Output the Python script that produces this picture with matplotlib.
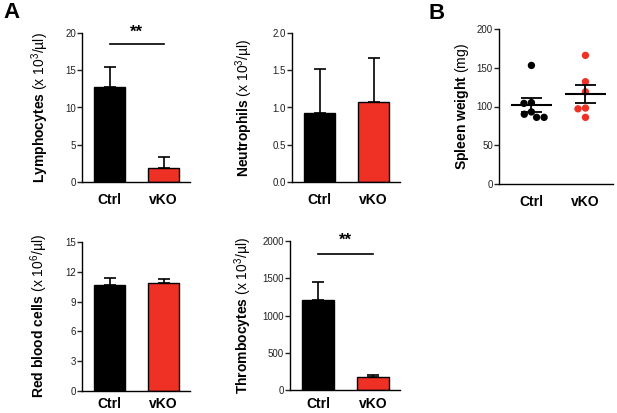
import numpy as np
import matplotlib
matplotlib.use("Agg")
import matplotlib.pyplot as plt

# ---------------- data ----------------
groups = ["Ctrl", "vKO"]

lymph_mean = [12.8, 1.9]
lymph_sem = [2.6, 1.5]
lymph_ticks = [0, 5, 10, 15, 20]
lymph_ticklabels = ["0", "5", "10", "15", "20"]

neut_mean = [0.92, 1.08]
neut_sem = [0.60, 0.59]
neut_ticks = [0.0, 0.5, 1.0, 1.5, 2.0]
neut_ticklabels = ["0.0", "0.5", "1.0", "1.5", "2.0"]

rbc_mean = [10.7, 10.9]
rbc_sem = [0.65, 0.35]
rbc_ticks = [0, 3, 6, 9, 12, 15]
rbc_ticklabels = ["0", "3", "6", "9", "12", "15"]

thromb_mean = [1210, 178]
thromb_sem = [240, 30]
thromb_ticks = [0, 500, 1000, 1500, 2000]
thromb_ticklabels = ["0", "500", "1000", "1500", "2000"]

spleen_ctrl = [153, 105, 104, 90, 93, 86, 86]
spleen_vko = [166, 132, 119, 98, 97, 86]
spleen_ticks = [0, 50, 100, 150, 200]
spleen_ticklabels = ["0", "50", "100", "150", "200"]

sig_label = "**"
lymph_sig_y = 18.5
thromb_sig_y = 1830

# ---------------- style ----------------
plt.rcParams["font.family"] = ["Liberation Sans", "DejaVu Sans"]
plt.rcParams["mathtext.fontset"] = "custom"
plt.rcParams["mathtext.rm"] = "Liberation Sans"
plt.rcParams["mathtext.bf"] = "Liberation Sans:bold"
plt.rcParams["mathtext.it"] = "Liberation Sans:italic"
plt.rcParams["mathtext.sf"] = "Liberation Sans"

BLACK = "#000000"
RED = "#EE3124"
W, H = 617, 413
fig = plt.figure(figsize=(W / 100, H / 100), dpi=100)
fig.patch.set_facecolor("white")


def ax_px(l, t, r, b):
    return fig.add_axes([l / W, 1 - b / H, (r - l) / W, (b - t) / H])


def style_axes(ax, ticks, ticklabels, ylabel, label_x, xpad=8):
    for s in ("top", "right"):
        ax.spines[s].set_visible(False)
    for s in ("left", "bottom"):
        ax.spines[s].set_linewidth(1.0)
    ax.set_ylim(ticks[0], ticks[-1])
    ax.set_yticks(ticks)
    ax.set_yticklabels(ticklabels)
    ax.tick_params(axis="y", length=3.4, width=1.0, pad=1, labelsize=7,
                   colors="#222222")
    ax.tick_params(axis="x", length=0, pad=xpad, labelsize=10)
    ax.set_xticks(range(len(groups)))
    ax.set_xticklabels(groups, fontweight="bold")
    ax.set_ylabel(ylabel, fontsize=10)
    ax.yaxis.set_label_coords(label_x, 0.5)


def bar_panel(ax, means, sems, ticks, ticklabels, ylabel, label_x, xpad=8):
    x = np.arange(len(groups))
    ax.bar(x, means, width=0.575, color=[BLACK, RED], edgecolor=BLACK,
           linewidth=1.0, zorder=2)
    ax.errorbar(x, means, yerr=[np.zeros(len(means)), sems], fmt="none",
                ecolor=BLACK, elinewidth=1.2, capsize=4, capthick=1.2, zorder=3)
    ax.set_xlim(-0.51, 1.49)
    style_axes(ax, ticks, ticklabels, ylabel, label_x, xpad)


def sig(ax, y, ytext):
    ax.plot([0, 1], [y, y], color=BLACK, lw=1.2, clip_on=False)
    ax.text(0.5, ytext, sig_label, ha="center", va="baseline", fontsize=12,
            fontweight="bold", clip_on=False)


ax1 = ax_px(82, 33, 190, 182)
bar_panel(ax1, lymph_mean, lymph_sem, lymph_ticks, lymph_ticklabels,
          r"$\mathbf{Lymphocytes}$ (x 10$^{3}$/µl)", -0.287)
sig(ax1, lymph_sig_y, 19.5)

ax2 = ax_px(292, 33, 400, 182)
bar_panel(ax2, neut_mean, neut_sem, neut_ticks, neut_ticklabels,
          r"$\mathbf{Neutrophils}$ (x 10$^{3}$/µl)", -0.343)

ax3 = ax_px(82, 242, 190, 391)
bar_panel(ax3, rbc_mean, rbc_sem, rbc_ticks, rbc_ticklabels,
          r"$\mathbf{Red\ blood\ cells}$ (x 10$^{6}$/µl)", -0.296, xpad=4.5)

ax4 = ax_px(290, 241, 400, 390)
bar_panel(ax4, thromb_mean, thromb_sem, thromb_ticks, thromb_ticklabels,
          r"$\mathbf{Thrombocytes}$ (x 10$^{3}$/µl)", -0.325, xpad=5)
sig(ax4, thromb_sig_y, 1950)

# ---------------- panel B ----------------
axb = ax_px(499, 29, 613, 184)
xlim_b = (-0.6, 1.51)
axb.set_xlim(*xlim_b)
px_x = 114 / (xlim_b[1] - xlim_b[0])
px_y = 155 / (spleen_ticks[-1] - spleen_ticks[0])


def swarm_offsets(vals, d=7.5):
    vals = np.asarray(vals, float)
    order = np.argsort(-vals, kind="stable")
    placed = []
    offs = np.zeros(len(vals))
    for i in order:
        y = vals[i] * px_y
        forb = []
        for (px, py) in placed:
            dy = abs(y - py)
            if dy < d:
                hw = np.sqrt(d * d - dy * dy)
                forb.append((px - hw, px + hw))
        cands = [0.0] + [a for iv in forb for a in iv]
        cands.sort(key=lambda c: (round(abs(c), 6), c))
        for c in cands:
            if all(not (lo + 1e-9 < c < hi - 1e-9) for lo, hi in forb):
                break
        placed.append((c, y))
        offs[i] = c
    return offs / px_x


for gi, (vals, col) in enumerate([(spleen_ctrl, BLACK), (spleen_vko, RED)]):
    offs = swarm_offsets(vals)
    axb.scatter(gi + offs, vals, s=28, color=col, edgecolors="none", zorder=2,
                clip_on=False)
    v = np.asarray(vals, float)
    m = v.mean()
    se = v.std(ddof=1) / np.sqrt(len(v))
    axb.hlines(m, gi - 0.38, gi + 0.38, color=BLACK, lw=1.5, zorder=3)
    axb.vlines(gi, m - se, m + se, color=BLACK, lw=1.3, zorder=3)
    axb.hlines([m - se, m + se], gi - 0.2, gi + 0.2, color=BLACK, lw=1.3, zorder=3)

style_axes(axb, spleen_ticks, spleen_ticklabels,
           r"$\mathbf{Spleen\ weight}$ (mg)", -0.243)

fig.text(3 / W, 1 - 2 / H, "A", fontsize=16, fontweight="bold", ha="left", va="top")
fig.text(428 / W, 1 - 3 / H, "B", fontsize=16, fontweight="bold", ha="left", va="top")

fig.savefig("out.png", dpi=100, facecolor="white")
